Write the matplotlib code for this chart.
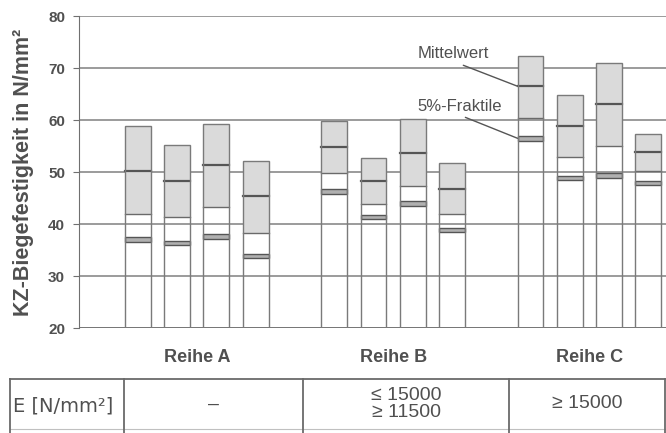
import numpy as np
import matplotlib.pyplot as plt
from matplotlib.patches import Rectangle

# Werte je Probekoerper
gruppen = ['Reihe A', 'Reihe B', 'Reihe C']
pos = [0, 1, 2, 3, 5, 6, 7, 8, 10, 11, 12, 13]
maxwert = [58.9, 55.3, 59.3, 52.1, 59.8, 52.7, 60.2, 51.7, 72.4, 64.9, 70.9, 57.3]
mittelwert = [50.3, 48.3, 51.4, 45.4, 54.8, 48.3, 53.7, 46.8, 66.5, 58.8, 63.0, 53.8]
minwert = [41.9, 41.3, 43.4, 38.4, 49.8, 43.9, 47.4, 41.9, 60.4, 52.9, 55.0, 50.3]
fraktile = [37.0, 36.4, 37.6, 33.9, 46.3, 41.4, 44.0, 38.9, 56.5, 48.9, 49.4, 47.9]

e_modul = ['E [N/mm²]', '–', '≤ 15000\n≥ 11500', '≥ 15000']

fig = plt.figure(figsize=(6.66, 4.33), dpi=100)
ax = fig.add_axes([79/666, 1 - 328.3/433, 1 - 79/666, (328.3 - 16)/433])

ax.set_ylim(20, 80)
ax.set_xlim(-1.5, 13.45)
ax.set_yticks(np.arange(20, 81, 10))
ax.set_xticks([])
for y in range(30, 81, 10):
    ax.axhline(y, color='#808080', lw=1.1, zorder=1)
for s in ['top', 'right', 'bottom']:
    ax.spines[s].set_visible(False)
ax.spines['left'].set_color('#707070')
ax.axhline(20, color='#6a6a6a', lw=1.3, zorder=1)
ax.tick_params(axis='y', length=4, color='#707070', labelcolor='#505050', pad=6)
for lab in ax.get_yticklabels():
    lab.set_fontweight('bold')
    lab.set_fontsize(11)
    lab.set_family('Liberation Sans')

ax.set_ylabel('KZ-Biegefestigkeit in N/mm²', fontsize=15.5, fontweight='bold',
              color='#505050', family='Liberation Sans', labelpad=10)

w = 0.66
for x, top, mw, mn, fr in zip(pos, maxwert, mittelwert, minwert, fraktile):
    # grauer Bereich min..max
    ax.add_patch(Rectangle((x - w/2, mn), w, top - mn, facecolor='#dadada',
                           edgecolor='none', zorder=2))
    ax.plot([x - w/2, x + w/2], [mn, mn], color='#6a6a6a', lw=1.0, zorder=3)
    ax.plot([x - w/2, x + w/2], [mw, mw], color='#555555', lw=1.6, zorder=3)
    # 5%-Fraktile als Doppellinie
    ax.add_patch(Rectangle((x - w/2, fr - 0.45), w, 0.9, facecolor='#b0b0b0',
                           edgecolor='#555555', lw=1.0, zorder=3))
    # Umriss
    ax.add_patch(Rectangle((x - w/2, 20), w, top - 20, facecolor='none',
                           edgecolor='#7a7a7a', lw=1.0, zorder=4))

ax.annotate('Mittelwert', xy=(pos[8] - w/2, mittelwert[8]), xytext=(7.13, 72.7),
            fontsize=12, color='#505050', family='Liberation Sans', va='center',
            arrowprops=dict(arrowstyle='-', color='#555555', lw=1.0,
                            relpos=(0.5, 0.0), shrinkA=2, shrinkB=0))
ax.annotate('5%-Fraktile', xy=(pos[8] - w/2, fraktile[8]), xytext=(7.13, 62.7),
            fontsize=12, color='#505050', family='Liberation Sans', va='center',
            arrowprops=dict(arrowstyle='-', color='#555555', lw=1.0,
                            relpos=(0.45, 0.0), shrinkA=2, shrinkB=0))

# Gruppenbeschriftung
for i, g in enumerate(gruppen):
    xc = np.mean(pos[i*4:(i+1)*4])
    xf = ax.transData.transform((xc, 0))[0] / fig.bbox.width
    fig.text(xf, 1 - 357/433, g, ha='center', va='center', fontsize=13,
             fontweight='bold', color='#505050', family='Liberation Sans')

# Tabelle unten
col_x = [10, 124, 303, 509, 665]
ty, by = 379, 429
lc = '#6a6a6a'
fig.add_artist(plt.Line2D([col_x[0]/666, col_x[-1]/666], [1 - ty/433, 1 - ty/433],
                          color=lc, lw=1.3, transform=fig.transFigure))
fig.add_artist(plt.Line2D([col_x[0]/666, col_x[-1]/666], [1 - by/433, 1 - by/433],
                          color='#c0c0c0', lw=0.8, transform=fig.transFigure))
for cx in col_x:
    fig.add_artist(plt.Line2D([cx/666, cx/666], [1 - ty/433, 0],
                              color=lc, lw=1.3, transform=fig.transFigure))
for i, t in enumerate(e_modul):
    xc = (col_x[i] + col_x[i+1]) / 2
    if i == 0:
        fig.text((col_x[0] + 3)/666, 1 - 406/433, t, ha='left', va='center',
                 fontsize=14, color='#505050', family='DejaVu Sans')
    else:
        fig.text(xc/666, 1 - 404/433, t, ha='center', va='center', fontsize=14,
                 color='#505050', family='Liberation Sans', linespacing=0.95)

fig.savefig('out.png', dpi=100)
